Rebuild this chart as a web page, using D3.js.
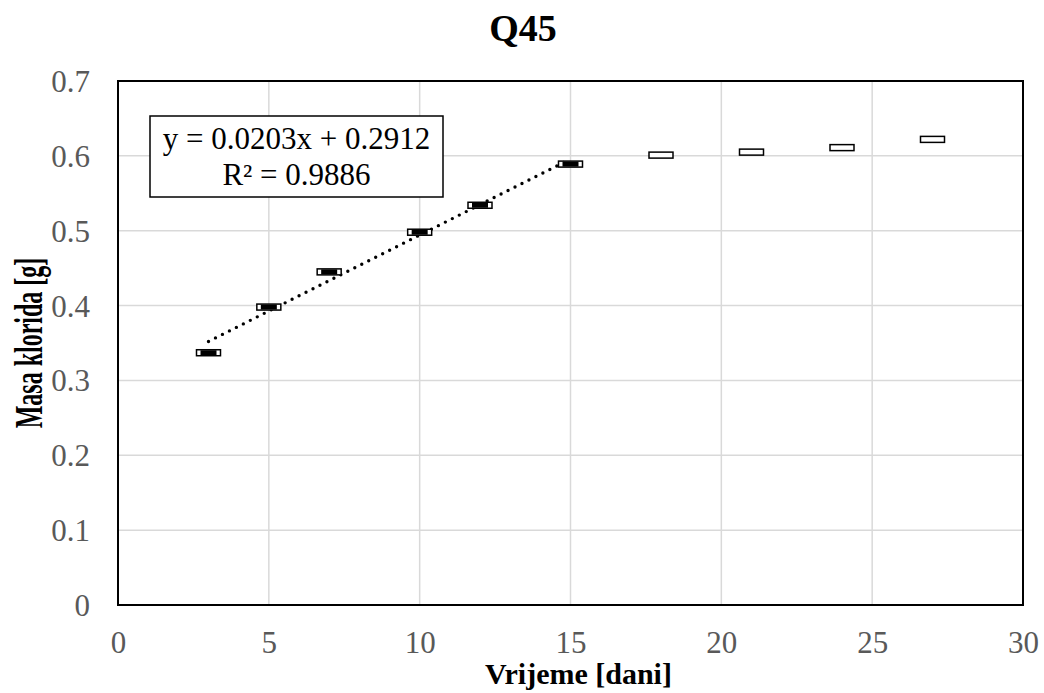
<!DOCTYPE html>
<html>
<head>
<meta charset="utf-8">
<script src="https://cdn.jsdelivr.net/npm/d3@7/dist/d3.min.js"></script>
<style>
  html, body { margin: 0; padding: 0; background: #fff; }
  svg { display: block; font-family: "Liberation Serif", "Times New Roman", serif; }
</style>
</head>
<body>
<svg id="chart" width="1044" height="693"></svg>
<script>
// Days of measurement and chloride mass [g]
const days = [3, 5, 7, 10, 12, 15, 18, 21, 24, 27];
const mass = [0.337, 0.398, 0.445, 0.498, 0.534, 0.589, 0.601, 0.605, 0.611, 0.622];
// Points used for the linear fit (first six measurements)
const fitDays = [3, 5, 7, 10, 12, 15];
const fitMass = [0.337, 0.398, 0.445, 0.498, 0.534, 0.589];
// Linear trendline coefficients and label
const slope = 0.0203;
const intercept = 0.2912;
const eqLines = ["y = 0.0203x + 0.2912", "R² = 0.9886"];
const xTicks = [0, 5, 10, 15, 20, 25, 30];
const yTicks = [0, 0.1, 0.2, 0.3, 0.4, 0.5, 0.6, 0.7];

const svg = d3.select("#chart");
const m = { left: 118, right: 1023, top: 81, bottom: 605 };

const x = d3.scaleLinear().domain([0, 30]).range([m.left, m.right]);
const y = d3.scaleLinear().domain([0, 0.7]).range([m.bottom, m.top]);

// Gridlines
const grid = svg.append("g");
grid.selectAll(".gx").data(xTicks.slice(1, -1)).join("line")
  .attr("x1", d => x(d)).attr("x2", d => x(d))
  .attr("y1", m.top).attr("y2", m.bottom)
  .attr("stroke", "#d9d9d9").attr("stroke-width", 1.5);
grid.selectAll(".gy").data(yTicks.slice(1, -1)).join("line")
  .attr("y1", d => y(d)).attr("y2", d => y(d))
  .attr("x1", m.left).attr("x2", m.right)
  .attr("stroke", "#d9d9d9").attr("stroke-width", 1.5);

// Tick labels via d3 axes (no lines)
const xAxis = svg.append("g")
  .attr("transform", `translate(0,${m.bottom})`)
  .call(d3.axisBottom(x).tickValues(xTicks).tickSize(0).tickPadding(0).tickFormat(d3.format("d")));
xAxis.select(".domain").remove();
xAxis.selectAll("text")
  .attr("y", 48).attr("dy", 0)
  .attr("fill", "#595959").attr("font-size", 31)
  .attr("font-family", "Liberation Serif, Times New Roman, serif");

const yAxis = svg.append("g")
  .attr("transform", `translate(${m.left},0)`)
  .call(d3.axisLeft(y).tickValues(yTicks).tickSize(0).tickPadding(0)
    .tickFormat(d => d === 0 ? "0" : d3.format(".1f")(d)));
yAxis.select(".domain").remove();
yAxis.selectAll("text")
  .attr("x", -28).attr("dy", "0.34em")
  .attr("fill", "#595959").attr("font-size", 31)
  .attr("font-family", "Liberation Serif, Times New Roman, serif");

// Plot border
svg.append("rect")
  .attr("x", m.left).attr("y", m.top)
  .attr("width", m.right - m.left).attr("height", m.bottom - m.top)
  .attr("fill", "none").attr("stroke", "#000").attr("stroke-width", 2);

// Dotted linear trendline over the fitted range
const x0 = d3.min(fitDays), x1 = d3.max(fitDays);
svg.append("line")
  .attr("x1", x(x0)).attr("y1", y(slope * x0 + intercept))
  .attr("x2", x(x1)).attr("y2", y(slope * x1 + intercept))
  .attr("stroke", "#000").attr("stroke-width", 3.4)
  .attr("stroke-linecap", "round").attr("stroke-dasharray", "0 7.8");

// Measurement markers (white bars)
svg.append("g").selectAll("rect").data(days.map((d, i) => [d, mass[i]])).join("rect")
  .attr("x", d => x(d[0]) - 12).attr("y", d => y(d[1]) - 3)
  .attr("width", 24).attr("height", 6)
  .attr("fill", "#fff").attr("stroke", "#000").attr("stroke-width", 1.5);

// Fitted-series markers (black dashes)
svg.append("g").selectAll("rect").data(fitDays.map((d, i) => [d, fitMass[i]])).join("rect")
  .attr("x", d => x(d[0]) - 8).attr("y", d => y(d[1]) - 2.5)
  .attr("width", 16).attr("height", 5)
  .attr("fill", "#000");

// Equation box
const box = svg.append("g");
box.append("rect")
  .attr("x", 150).attr("y", 116).attr("width", 293).attr("height", 81)
  .attr("fill", "#fff").attr("stroke", "#000").attr("stroke-width", 1.5);
box.selectAll("text").data(eqLines).join("text")
  .attr("x", 296.5).attr("y", (d, i) => 149 + i * 36)
  .attr("text-anchor", "middle").attr("font-size", 31).attr("fill", "#000")
  .text(d => d);

// Titles
svg.append("text")
  .attr("x", 523).attr("y", 41).attr("text-anchor", "middle")
  .attr("font-size", 38).attr("font-weight", "bold").text("Q45");
svg.append("text")
  .attr("x", (m.left + m.right) / 2 + 8).attr("y", 684).attr("text-anchor", "middle")
  .attr("font-size", 30).attr("font-weight", "bold").text("Vrijeme [dani]");
svg.append("text")
  .attr("transform", `translate(42,${(m.top + m.bottom) / 2}) rotate(-90) scale(1,1.65)`)
  .attr("text-anchor", "middle")
  .attr("font-size", 24).attr("font-weight", "bold").text("Masa klorida [g]");
</script>
</body>
</html>
